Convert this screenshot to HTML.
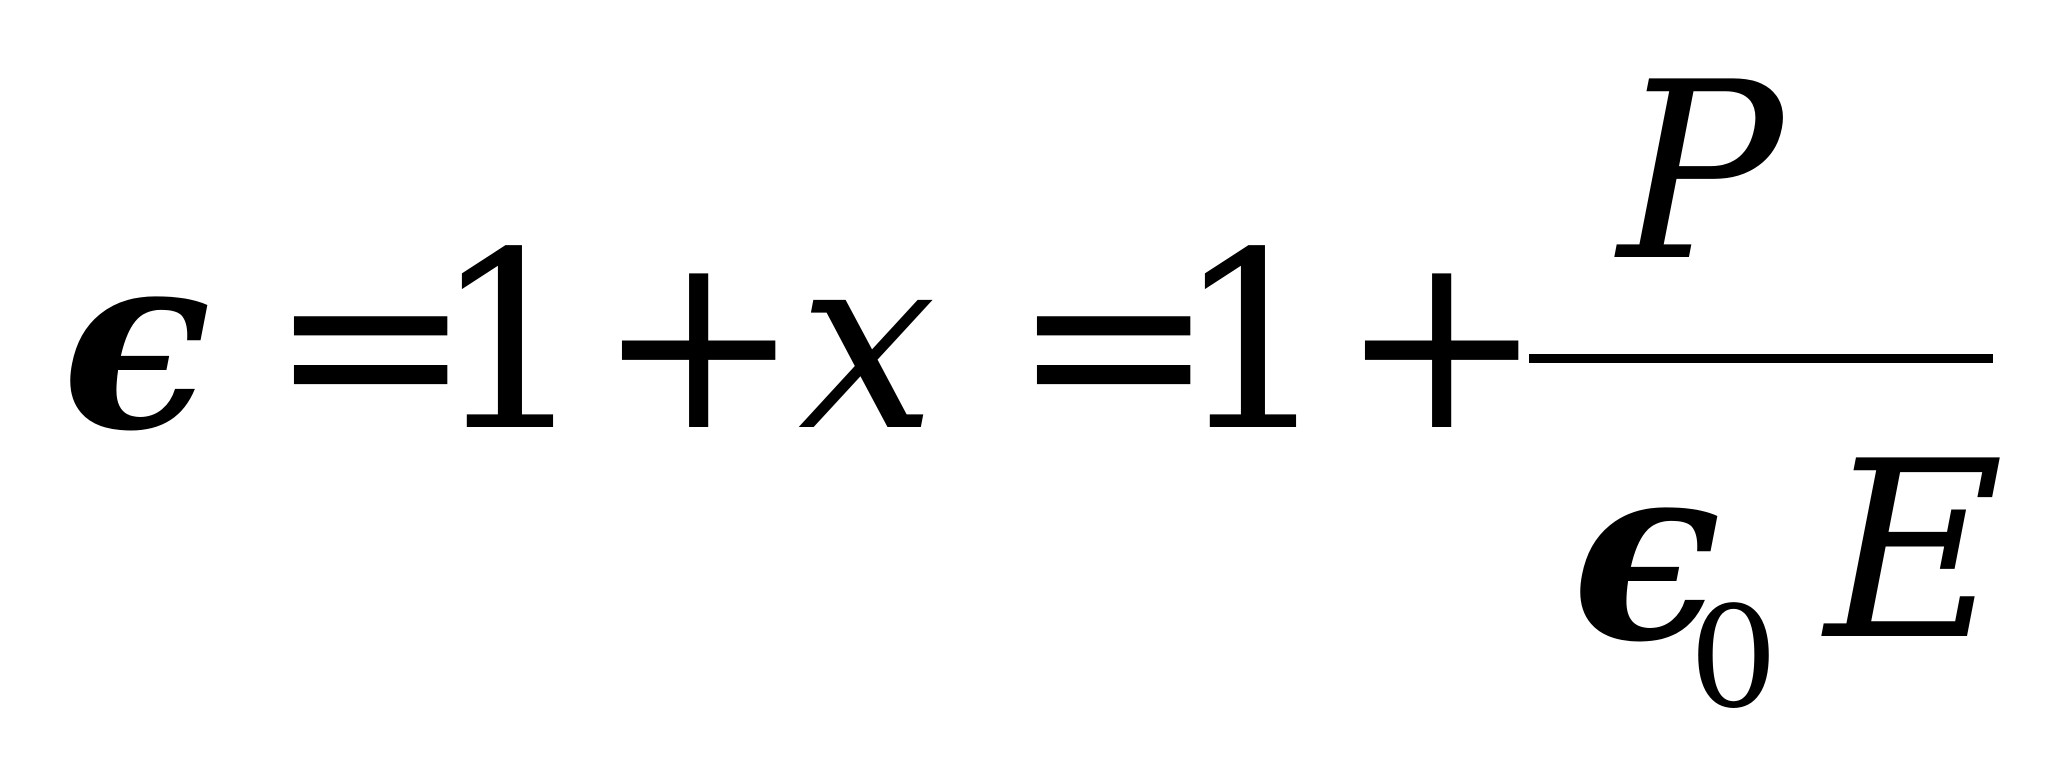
<!DOCTYPE html>
<html><head><style>
html,body{margin:0;padding:0;background:#fff;width:2048px;height:766px;overflow:hidden}
text{font-family:"DejaVu Serif","Liberation Serif",serif;fill:#000}
</style></head><body>
<svg width="2048" height="766" viewBox="0 0 2048 766" xmlns="http://www.w3.org/2000/svg">
<text x="62" y="427" font-size="245" font-style="italic" font-weight="bold">ϵ</text>
<text x="268" y="427" font-size="245">=</text>
<text x="432" y="427" font-size="245">1</text>
<text x="596" y="427" font-size="245">+</text>
<text x="798" y="427" font-size="245" font-style="italic">x</text>
<text x="1011" y="427" font-size="245">=</text>
<text x="1175" y="427" font-size="245">1</text>
<text x="1339" y="427" font-size="245">+</text>
<rect x="1529" y="354" width="464" height="9" fill="#000"/>
<text x="1618" y="257" font-size="245" font-style="italic">P</text>
<text x="1572" y="638" font-size="245" font-style="italic" font-weight="bold">ϵ</text>
<text x="1689" y="706" font-size="140">0</text>
<text x="1825" y="636" font-size="245" font-style="italic">E</text>
</svg>
</body></html>
